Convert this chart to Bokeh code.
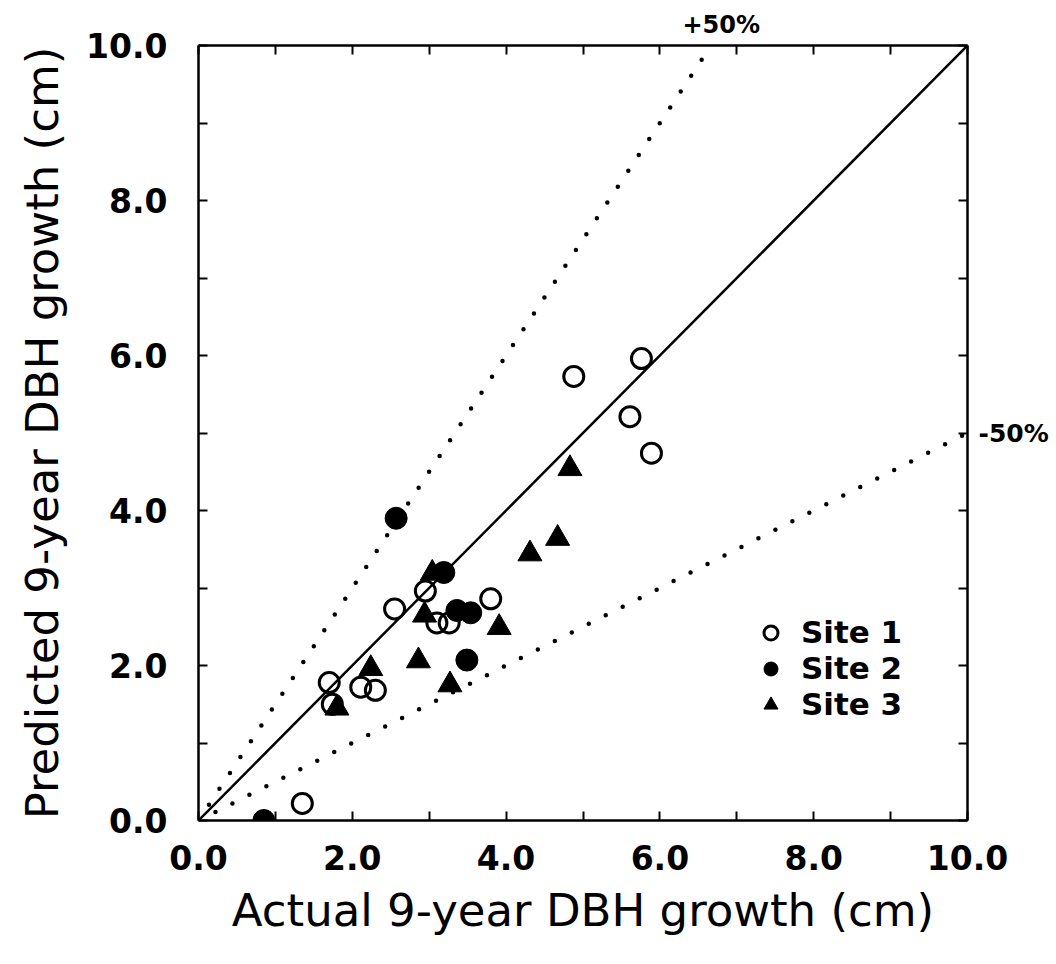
from bokeh.plotting import figure
from bokeh.models import Range1d, LinearAxis, FixedTicker, Legend, LegendItem
from bokeh.embed import file_html
from bokeh.resources import INLINE

# Site 1 (open circles)
site1_x = [1.35, 1.70, 1.74, 2.11, 2.30, 2.55, 2.95, 3.10, 3.26, 3.80, 4.88, 5.76, 5.61, 5.89]
site1_y = [0.22, 1.78, 1.50, 1.72, 1.68, 2.73, 2.96, 2.55, 2.55, 2.86, 5.73, 5.96, 5.21, 4.74]
# Site 2 (filled circles)
site2_x = [0.85, 2.57, 3.19, 3.36, 3.54, 3.49]
site2_y = [0.00, 3.90, 3.20, 2.71, 2.68, 2.07]
# Site 3 (filled triangles)
site3_x = [1.80, 2.24, 2.86, 2.94, 3.04, 3.27, 3.91, 4.31, 4.67, 4.83]
site3_y = [1.45, 1.96, 2.06, 2.65, 3.19, 1.75, 2.49, 3.44, 3.64, 4.54]

# Reference lines: 1:1, +50% and -50%
one_x = [0, 10]
one_y = [0, 10]
plus_x = [0, 10 / 1.5]
plus_y = [0, 10]
minus_x = [0, 10]
minus_y = [0, 5]

major_ticks = [0, 2, 4, 6, 8, 10]
minor_ticks = [1, 3, 5, 7, 9]
tick_labels = {0: "0.0", 2: "2.0", 4: "4.0", 6: "6.0", 8: "8.0", 10: "10.0"}

TICK_FONT = "DejaVu Sans"
LABEL_FONT = "DejaVu Sans"

p = figure(width=1056, height=964, x_range=Range1d(0, 10), y_range=Range1d(0, 10),
           output_backend="svg", toolbar_location=None,
           min_border_left=198, min_border_right=89, min_border_top=45, min_border_bottom=144)
p.grid.visible = False
p.outline_line_color = None
p.background_fill_color = "white"
p.border_fill_color = "white"


def style_axis(ax, show_labels):
    ax.ticker = FixedTicker(ticks=major_ticks, minor_ticks=minor_ticks)
    ax.axis_line_width = 2.5
    ax.axis_line_color = "black"
    ax.major_tick_in = 9
    ax.major_tick_out = 0
    ax.minor_tick_in = 9
    ax.minor_tick_out = 0
    ax.major_tick_line_width = 2
    ax.minor_tick_line_width = 2
    ax.major_tick_line_color = "black"
    ax.minor_tick_line_color = "black"
    if show_labels:
        ax.major_label_overrides = tick_labels
        ax.major_label_text_font = TICK_FONT
        ax.major_label_text_font_style = "bold"
        ax.major_label_text_font_size = "33px"
        ax.major_label_text_color = "black"
        ax.axis_label_text_font = LABEL_FONT
        ax.axis_label_text_font_style = "normal"
        ax.axis_label_text_font_size = "45px"
        ax.axis_label_text_color = "black"
    else:
        ax.major_label_text_font_size = "0px"
        ax.major_label_text_color = None


style_axis(p.xaxis[0], True)
style_axis(p.yaxis[0], True)
p.xaxis[0].axis_label = "Actual 9-year DBH growth (cm)"
p.yaxis[0].axis_label = "Predicted 9-year DBH growth (cm)"
p.xaxis[0].major_label_standoff = 24
p.yaxis[0].major_label_standoff = 31
p.xaxis[0].axis_label_standoff = 11
p.yaxis[0].axis_label_standoff = 14

top_ax = LinearAxis()
right_ax = LinearAxis()
style_axis(top_ax, False)
style_axis(right_ax, False)
right_ax.axis_label = "-50%"
right_ax.axis_label_orientation = "horizontal"
right_ax.axis_label_text_font = TICK_FONT
right_ax.axis_label_text_font_style = "bold"
right_ax.axis_label_text_font_size = "25px"
right_ax.axis_label_text_color = "black"
right_ax.axis_label_standoff = 11
p.add_layout(top_ax, "above")
p.add_layout(right_ax, "right")

p.title.text = "+50%"
p.title.align = "left"
p.title.offset = 484
p.title.text_font = TICK_FONT
p.title.text_font_style = "bold"
p.title.text_font_size = "24px"
p.title.text_color = "black"
p.title.standoff = 14

# reference lines
p.line(one_x, one_y, line_color="black", line_width=2.5)
p.line(plus_x, plus_y, line_color="black", line_width=4.5, line_dash="0 19", line_cap="round")
p.line(minus_x, minus_y, line_color="black", line_width=4.5, line_dash="0 19", line_cap="round")

s1 = p.scatter(site1_x, site1_y, marker="circle", size=20, fill_color=None,
               line_color="black", line_width=3)
s2 = p.scatter(site2_x, site2_y, marker="circle", size=22, fill_color="black",
               line_color="black", line_width=1)
s3 = p.scatter(site3_x, site3_y, marker="triangle", size=24, fill_color="black",
               line_color="black", line_width=1)

legend = Legend(items=[LegendItem(label="Site 1", renderers=[s1]),
                       LegendItem(label="Site 2", renderers=[s2]),
                       LegendItem(label="Site 3", renderers=[s3])],
                location=(555, 98))
legend.background_fill_alpha = 0
legend.border_line_color = None
legend.label_text_font = TICK_FONT
legend.label_text_font_style = "bold"
legend.label_text_font_size = "31px"
legend.label_text_color = "black"
legend.label_height = 35
legend.glyph_height = 35
legend.glyph_width = 35
legend.spacing = 0
legend.label_standoff = 13
legend.padding = 0
p.add_layout(legend, "center")

open("out.html", "w").write(file_html(p, INLINE))
